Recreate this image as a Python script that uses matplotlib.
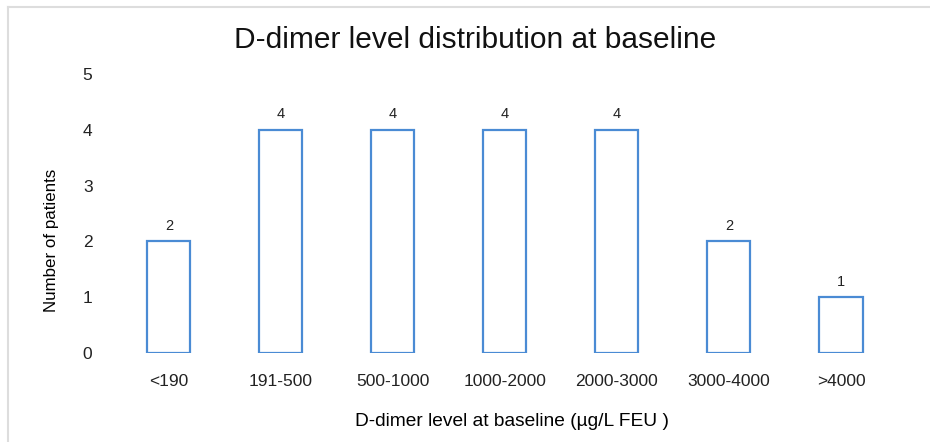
import matplotlib.pyplot as plt
from matplotlib.lines import Line2D

plt.rcParams['font.family'] = ['Liberation Sans', 'DejaVu Sans']

categories = ['<190', '191-500', '500-1000', '1000-2000', '2000-3000', '3000-4000', '>4000']
patients = [2, 4, 4, 4, 4, 2, 1]

fig = plt.figure(figsize=(9.3, 4.42), dpi=100)
ax = fig.add_axes([0.1129, 0.2014, 0.860, 0.631])

x = range(len(categories))
bars = ax.bar(x, patients, width=0.385, color='white', edgecolor='#4a8bd4', linewidth=1.6)
for b, v in zip(bars, patients):
    ax.text(b.get_x() + b.get_width() / 2, v + 0.15, str(v),
            ha='center', va='bottom', fontsize=10.5, color='#222222')

ax.set_xlim(-0.57, 6.57)
ax.set_ylim(0, 5)
ax.set_xticks(list(x))
ax.set_xticklabels(categories, fontsize=12.5)
ax.set_yticks(range(6))
ax.tick_params(axis='both', length=0, colors='#222222')
ax.tick_params(axis='x', pad=15, labelsize=12.5)
ax.tick_params(axis='y', pad=9, labelsize=12.5)
for s in ax.spines.values():
    s.set_visible(False)

ax.set_xlabel('D-dimer level at baseline (µg/L FEU )', fontsize=13.8)
ax.xaxis.set_label_coords(0.509, -0.215)
ax.set_ylabel('Number of patients', fontsize=12.2)
ax.yaxis.set_label_coords(-0.058, 0.405)
fig.text(0.511, 0.91, 'D-dimer level distribution at baseline', ha='center', va='center',
         fontsize=21.5, color='#111111')

# thin gray frame along top and left edges
fig.add_artist(Line2D([8 / 930, 1], [1 - 7 / 442, 1 - 7 / 442], color='#dddddd', lw=1.5))
fig.add_artist(Line2D([8 / 930, 8 / 930], [0, 1 - 7 / 442], color='#dddddd', lw=1.5))

fig.savefig('out.png', dpi=100)
